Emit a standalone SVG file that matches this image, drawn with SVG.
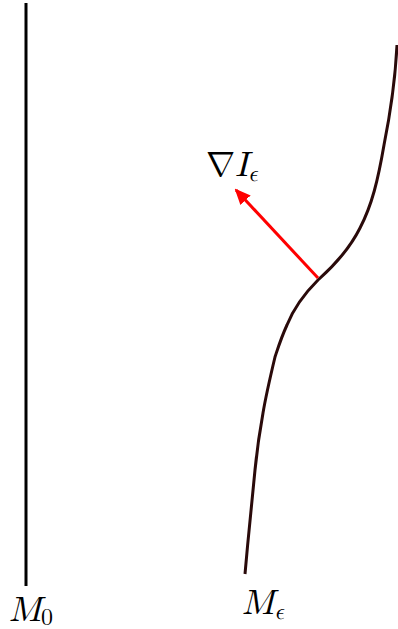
<svg xmlns="http://www.w3.org/2000/svg" width="398" height="629" viewBox="0 0 398 629">
<style>
.lbl{font-family:"Latin Modern Math","DejaVu Serif","Liberation Serif",serif;font-style:italic;fill:#000}
.up{font-style:normal}
</style>
<defs>
<marker id="ah" markerWidth="16" markerHeight="14" refX="14" refY="7" orient="auto" markerUnits="userSpaceOnUse" viewBox="0 0 16 14">
<path d="M0,0 L16,7 L0,14 Z" fill="#ff0000"/>
</marker>
</defs>
<rect width="398" height="629" fill="#fff"/>
<g id="M0">
<line x1="26" y1="3" x2="26" y2="586" stroke="#000" stroke-width="3"/>
<text class="lbl" x="9" y="621" font-size="35">M<tspan class="up" font-size="24" dy="4">0</tspan></text>
</g>
<g id="Me">
<path d="M397,45 C395,85 390,115 384,145 C378,180 372,205 360,228 C350,248 336,264 318,280 C308,290 295,305 287,325 C281,338 278,348 275,357 C270,378 266,395 263,413 C259,435 257,450 255,470 C251,510 248,540 245,574" fill="none" stroke="#2a0a0a" stroke-width="3"/>
<text class="lbl" x="242" y="614" font-size="35">M<tspan font-size="23" dy="5">ϵ</tspan></text>
</g>
<g id="connectors">
<line x1="318" y1="278" x2="236" y2="190" stroke="#ff0000" stroke-width="3" marker-end="url(#ah)"/>
</g>
<g id="grad">
<text class="lbl" x="206" y="176" font-size="35"><tspan class="up">∇</tspan>I<tspan font-size="23" dy="5">ϵ</tspan></text>
</g>
</svg>
